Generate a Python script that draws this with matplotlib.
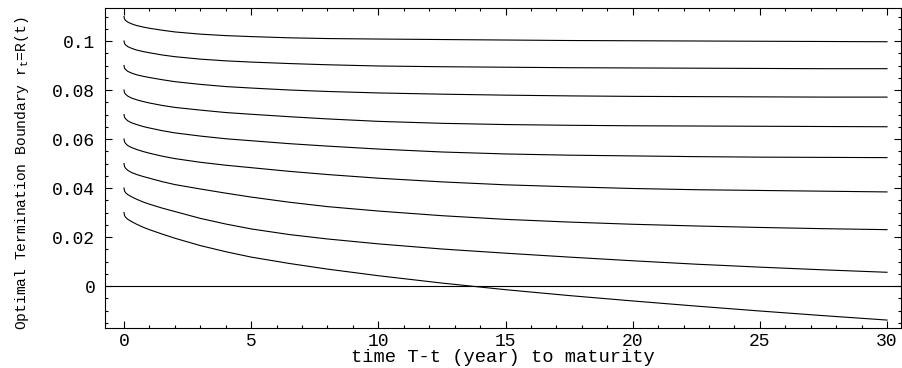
import matplotlib
matplotlib.use("Agg")
import matplotlib.pyplot as plt
from matplotlib.ticker import MultipleLocator, FixedLocator

plt.rcParams['font.family'] = ['Liberation Mono', 'DejaVu Sans Mono']
plt.rcParams['mathtext.fontset'] = 'custom'
plt.rcParams['mathtext.rm'] = 'Liberation Mono'
plt.rcParams['mathtext.it'] = 'Liberation Mono'

# time to maturity (years)
t = [0, 0.02, 0.06, 0.15, 0.3, 0.5, 0.75, 1, 1.5, 2, 3, 4, 5, 6.5, 8, 10,
     12.5, 15, 17.5, 20, 22.5, 25, 27.5, 30]

# optimal termination boundary curves, one per starting rate
r_011 = [0.1100, 0.1090, 0.1084, 0.1077, 0.1070, 0.1063, 0.1057, 0.1052, 0.1044, 0.1037, 0.1028, 0.1022,
         0.1018, 0.1013, 0.1010, 0.1008, 0.1006, 0.1004, 0.1002, 0.1001, 0.1000, 0.0999, 0.0998, 0.0997]
r_010 = [0.1000, 0.0990, 0.0984, 0.0977, 0.0970, 0.0963, 0.0957, 0.0952, 0.0943, 0.0936, 0.0926, 0.0919,
         0.0914, 0.0908, 0.0903, 0.0898, 0.0895, 0.0893, 0.0891, 0.0890, 0.0889, 0.0888, 0.0887, 0.0887]
r_009 = [0.0900, 0.0889, 0.0884, 0.0876, 0.0869, 0.0862, 0.0856, 0.0851, 0.0842, 0.0834, 0.0823, 0.0814,
         0.0808, 0.0800, 0.0794, 0.0788, 0.0783, 0.0779, 0.0776, 0.0774, 0.0773, 0.0772, 0.0771, 0.0771]
r_008 = [0.0800, 0.0789, 0.0783, 0.0775, 0.0767, 0.0760, 0.0753, 0.0747, 0.0737, 0.0729, 0.0718, 0.0708,
         0.0701, 0.0691, 0.0682, 0.0672, 0.0664, 0.0659, 0.0656, 0.0654, 0.0653, 0.0652, 0.0651, 0.0650]
r_007 = [0.0700, 0.0689, 0.0683, 0.0674, 0.0666, 0.0659, 0.0651, 0.0645, 0.0634, 0.0625, 0.0612, 0.0601,
         0.0593, 0.0581, 0.0571, 0.0559, 0.0547, 0.0539, 0.0534, 0.0531, 0.0528, 0.0526, 0.0525, 0.0524]
r_006 = [0.0600, 0.0589, 0.0582, 0.0573, 0.0565, 0.0557, 0.0549, 0.0542, 0.0530, 0.0520, 0.0505, 0.0493,
         0.0483, 0.0468, 0.0455, 0.0440, 0.0425, 0.0413, 0.0405, 0.0398, 0.0393, 0.0390, 0.0387, 0.0384]
r_005 = [0.0500, 0.0488, 0.0481, 0.0472, 0.0463, 0.0455, 0.0447, 0.0440, 0.0426, 0.0414, 0.0396, 0.0379,
         0.0363, 0.0342, 0.0324, 0.0306, 0.0287, 0.0272, 0.0261, 0.0252, 0.0245, 0.0239, 0.0234, 0.0230]
r_004 = [0.0400, 0.0388, 0.0381, 0.0373, 0.0364, 0.0354, 0.0343, 0.0334, 0.0318, 0.0304, 0.0276, 0.0253,
         0.0233, 0.0210, 0.0192, 0.0172, 0.0151, 0.0134, 0.0118, 0.0103, 0.0089, 0.0077, 0.0066, 0.0056]
r_003 = [0.0300, 0.0288, 0.0281, 0.0272, 0.0263, 0.0252, 0.0240, 0.0230, 0.0212, 0.0195, 0.0165, 0.0140,
         0.0118, 0.0092, 0.0069, 0.0042, 0.0012, -0.0015, -0.0039, -0.0061, -0.0082, -0.0102, -0.0121, -0.0139]

curves = [r_011, r_010, r_009, r_008, r_007, r_006, r_005, r_004, r_003]

x_ticks = [0, 5, 10, 15, 20, 25, 30]
x_tick_labels = ["0", "5", "10", "15", "20", "25", "30"]
y_ticks = [0, 0.02, 0.04, 0.06, 0.08, 0.1]
y_tick_labels = ["0", "0.02", "0.04", "0.06", "0.08", "0.1"]

W, H = 903, 368
fig = plt.figure(figsize=(W / 100, H / 100), dpi=100)
L, R, T, B = 105, 901, 8, 328
ax = fig.add_axes([L / W, 1 - B / H, (R - L) / W, (B - T) / H])

ax.axhline(0, color='black', lw=0.8)
for r in curves:
    ax.plot(t, r, color='black', lw=0.8, solid_joinstyle='round')

ax.set_xlim(-0.747, 30.55)
ax.set_ylim(-0.01714, 0.11347)

ax.xaxis.set_major_locator(FixedLocator(x_ticks))
ax.set_xticklabels(x_tick_labels)
ax.xaxis.set_minor_locator(MultipleLocator(1))
ax.yaxis.set_major_locator(FixedLocator(y_ticks))
ax.set_yticklabels(y_tick_labels)
ax.yaxis.set_minor_locator(MultipleLocator(0.005))

ax.tick_params(which='both', direction='in', top=True, right=True, width=0.8,
               labelsize=13, colors='black')
ax.tick_params(which='major', length=5)
ax.tick_params(which='minor', length=2.5)
ax.tick_params(axis='x', which='major', pad=3.5)
ax.tick_params(axis='y', which='major', pad=7)
for s in ax.spines.values():
    s.set_linewidth(0.8)

ax.set_xlabel("time T-t (year) to maturity", fontsize=13.5)
ax.xaxis.label.set_va('baseline')
ax.xaxis.set_label_coords(0.5, -(362 - B) / (B - T))

ax.set_ylabel("Optimal Termination Boundary r$_\\mathrm{t}$=R(t)", fontsize=10.5)
ax.yaxis.set_label_coords(-(L - 31) / (R - L), (B - 173) / (B - T))

fig.savefig("out.png", dpi=100)
